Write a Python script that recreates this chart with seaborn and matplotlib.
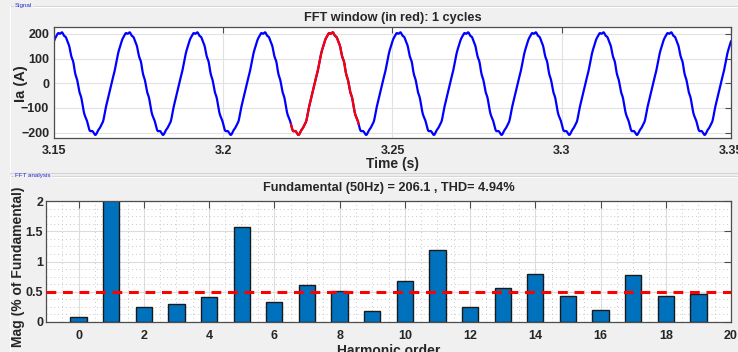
import numpy as np
import pandas as pd
import matplotlib
matplotlib.use("Agg")
import matplotlib.pyplot as plt
from matplotlib.lines import Line2D
from matplotlib.ticker import MultipleLocator
import seaborn as sns

# ---------------- data ----------------
fundamental_amp = 206.1          # A (from title)
fundamental_freq = 50.0          # Hz
harmonic_order = list(range(20))
mag_percent = [0.08, 100.0, 0.25, 0.30, 0.42, 1.565, 0.335, 0.61, 0.52, 0.19,
               0.67, 1.185, 0.25, 0.57, 0.79, 0.43, 0.20, 0.78, 0.425, 0.46]
peak_time = 3.152                # time of a positive peak
fft_window = [3.22, 3.24]        # 1 cycle shown in red
time_ticks = [3.15, 3.2, 3.25, 3.3, 3.35]
time_ticklabels = ["3.15", "3.2", "3.25", "3.3", "3.35"]
ia_ticks = [-200, -100, 0, 100, 200]
harm_ticks = list(range(0, 21, 2))
mag_ticks = [0, 0.5, 1, 1.5, 2]
mag_ticklabels = ["0", "0.5", "1", "1.5", "2"]
threshold = 0.5

# signal rebuilt from the displayed spectrum (low-crest-factor phase spread)
t = np.linspace(3.15, 3.35, 20001)
ia = np.zeros_like(t)
n_h = len(harmonic_order)
for h, m in zip(harmonic_order, mag_percent):
    a = fundamental_amp * m / 100.0
    if h == 0:
        ia += a
    else:
        phase = 0.0 if h == 1 else np.pi * h * (h - 1) / n_h
        ia += a * np.cos(2 * np.pi * h * fundamental_freq * (t - peak_time) + phase)
sig = pd.DataFrame({"t": t, "ia": ia})
win = sig[(sig.t >= fft_window[0]) & (sig.t <= fft_window[1])]
bars = pd.DataFrame({"order": harmonic_order, "mag": mag_percent})

# ---------------- style ----------------
sns.set_theme(style="white")
plt.rcParams["font.family"] = ["Liberation Sans", "DejaVu Sans"]
plt.rcParams["font.weight"] = "bold"
BG = "#f0f0f0"
W, H = 738, 352
fig = plt.figure(figsize=(W / 100, H / 100), dpi=100, facecolor=BG)

def fx(px):
    return px / W

def fy(py):
    return 1 - py / H

# group boxes
for (yl, label, lx_end) in [(6, "Signal", 33), (176, "FFT analysis", 52)]:
    fig.add_artist(Line2D([fx(lx_end), 1], [fy(yl), fy(yl)], color="#d4d4d4", lw=0.8))
    fig.add_artist(Line2D([fx(lx_end), 1], [fy(yl + 1), fy(yl + 1)], color="white", lw=0.8))
    fig.add_artist(Line2D([fx(10), fx(13)], [fy(yl), fy(yl)], color="#d4d4d4", lw=0.8))
    fig.text(fx(15), fy(yl), label, fontsize=4.5, color="#2a2ad0", fontweight="normal",
             va="center", ha="left")
fig.add_artist(Line2D([fx(10), fx(10)], [fy(6), fy(173)], color="white", lw=0.8))
fig.add_artist(Line2D([fx(10), 1], [fy(173), fy(173)], color="#d4d4d4", lw=0.8))
fig.add_artist(Line2D([fx(10), fx(10)], [fy(176), 0], color="white", lw=0.8))

spine_col = "#4d4d4d"

# ---------------- top axes ----------------
ax1 = fig.add_axes([fx(54), fy(138), fx(731) - fx(54), fy(27) - fy(138)])
ax1.set_facecolor("white")
sns.lineplot(data=sig, x="t", y="ia", ax=ax1, color="#0000ff", lw=1.6,
             estimator=None, sort=False)
sns.lineplot(data=win, x="t", y="ia", ax=ax1, color="#ff0000", lw=1.6,
             estimator=None, sort=False)
ax1.set_xlim(time_ticks[0], time_ticks[-1])
ax1.set_ylim(-222, 228)
ax1.set_xticks(time_ticks)
ax1.set_xticklabels(time_ticklabels)
ax1.set_yticks(ia_ticks)
ax1.grid(True, color="#e2e2e2", lw=0.8)
ax1.set_axisbelow(True)
ax1.set_title("FFT window (in red): 1 cycles", fontsize=9.2, fontweight="bold", pad=4.5)
ax1.set_xlabel("Time (s)", fontsize=10, fontweight="bold", labelpad=0)
ax1.set_ylabel("Ia (A)", fontsize=10.5, fontweight="bold")
ax1.yaxis.set_label_coords((28 - 54) / 677, (138 - 83.5) / 111)
ax1.tick_params(direction="in", length=4, width=0.8, color=spine_col, labelsize=9,
                top=True, right=True, pad=5)
ax1.tick_params(axis="y", pad=3.5)
for s in ax1.spines.values():
    s.set_color(spine_col)
    s.set_linewidth(0.9)

# ---------------- bottom axes ----------------
ax2 = fig.add_axes([fx(46), fy(322), fx(731) - fx(46), fy(201) - fy(322)])
ax2.set_facecolor("white")
sns.barplot(data=bars, x="order", y="mag", ax=ax2, native_scale=True, width=0.5,
            color="#0072bd", edgecolor="#1a1a1a", linewidth=1.0, saturation=1)
ax2.axhline(threshold, color="#ff0000", lw=2.2, ls=(0, (3.2, 2.2)), zorder=3)
ax2.set_xlim(-1, 20)
ax2.set_ylim(0, 2)
ax2.set_xticks(harm_ticks)
ax2.set_xticklabels([str(v) for v in harm_ticks])
ax2.set_yticks(mag_ticks)
ax2.set_yticklabels(mag_ticklabels)
ax2.xaxis.set_minor_locator(MultipleLocator(0.5))
ax2.yaxis.set_minor_locator(MultipleLocator(0.125))
ax2.grid(True, which="major", color="#dcdcdc", lw=0.8)
ax2.grid(True, which="minor", color="#c8c8c8", lw=0.7, ls=(0, (1, 3)))
ax2.set_axisbelow(True)
ax2.set_title("Fundamental (50Hz) = 206.1 , THD= 4.94%", fontsize=9.2,
              fontweight="bold", pad=7)
ax2.set_xlabel("Harmonic order", fontsize=10, fontweight="bold", labelpad=1)
ax2.set_ylabel("Mag (% of Fundamental)", fontsize=10, fontweight="bold")
ax2.yaxis.set_label_coords((25.5 - 46) / 685, (322 - 266.5) / 121)
ax2.tick_params(which="major", direction="in", length=5, width=0.8, color=spine_col,
                labelsize=9, top=True, right=True, pad=6)
ax2.tick_params(axis="y", which="major", pad=2)
ax2.tick_params(which="minor", length=0)
for s in ax2.spines.values():
    s.set_color(spine_col)
    s.set_linewidth(0.9)

fig.savefig("out.png", dpi=100, facecolor=BG)
